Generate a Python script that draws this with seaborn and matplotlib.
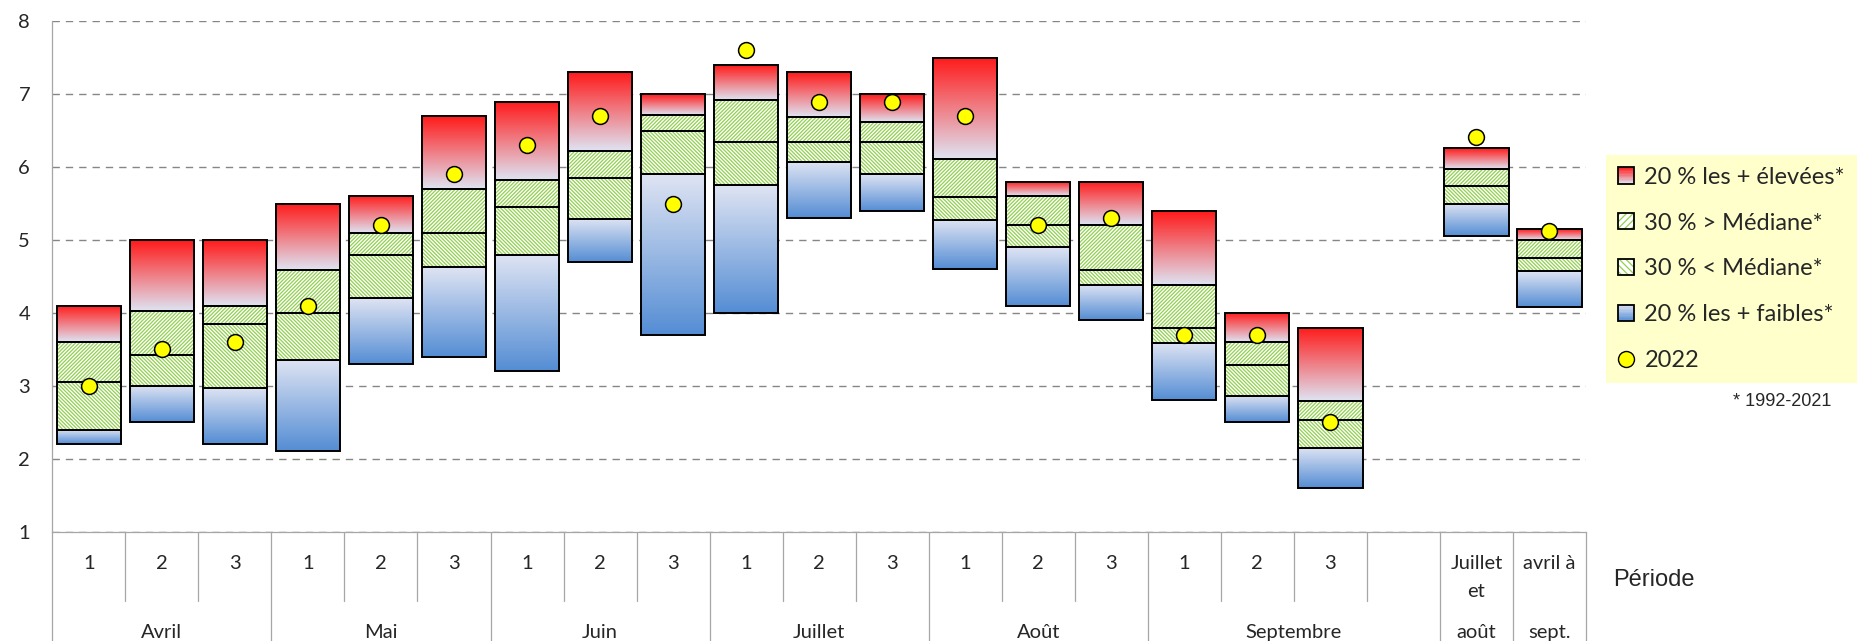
import numpy as np
import pandas as pd
import seaborn as sns
import matplotlib.pyplot as plt
from matplotlib.colors import LinearSegmentedColormap
from matplotlib.patches import Rectangle
from matplotlib.lines import Line2D
from matplotlib.legend_handler import HandlerBase

# --- data (decades of April..September, then two seasons) ---
decades = ["1", "2", "3"] * 6 + ["", "Juillet", "avril à"]
months = ["Avril", "Mai", "Juin", "Juillet", "Août", "Septembre", "août", "sept."]
month_centers = [1, 4, 7, 10, 13, 16.5, 19, 20]
group_edges = [-0.5, 2.5, 5.5, 8.5, 11.5, 14.5, 18.5, 19.5, 20.5]

p_min = [2.2, 2.5, 2.2, 2.1, 3.3, 3.4, 3.2, 4.7, 3.7, 4.0, 5.3, 5.4, 4.6, 4.1, 3.9,
         2.8, 2.5, 1.6, np.nan, 5.06, 4.08]
p20 = [2.4, 3.0, 2.97, 3.36, 4.2, 4.63, 4.8, 5.29, 5.9, 5.75, 6.07, 5.9, 5.28, 4.9,
       4.39, 3.59, 2.86, 2.15, np.nan, 5.5, 4.57]
p50 = [3.05, 3.43, 3.85, 4.0, 4.8, 5.09, 5.45, 5.85, 6.5, 6.35, 6.35, 6.35, 5.59,
       5.2, 4.59, 3.8, 3.29, 2.53, np.nan, 5.74, 4.75]
p80 = [3.6, 4.03, 4.1, 4.59, 5.09, 5.7, 5.82, 6.22, 6.72, 6.92, 6.69, 6.62, 6.11,
       5.6, 5.2, 4.39, 3.6, 2.79, np.nan, 5.98, 5.0]
p_max = [4.1, 5.0, 5.0, 5.5, 5.6, 6.7, 6.9, 7.3, 7.0, 7.4, 7.3, 7.0, 7.5, 5.8, 5.8,
         5.4, 4.0, 3.8, np.nan, 6.26, 5.15]
y2022 = [3.0, 3.5, 3.6, 4.1, 5.2, 5.9, 6.3, 6.7, 5.5, 7.6, 6.9, 6.9, 6.7, 5.2, 5.3,
         3.7, 3.7, 2.5, np.nan, 6.42, 5.13]

df = pd.DataFrame({"pos": np.arange(len(decades)), "min": p_min, "p20": p20,
                   "p50": p50, "p80": p80, "max": p_max, "y2022": y2022}).dropna()

RED_TOP, PALE, BLUE_BOT = "#ff1a1a", "#dfe4f3", "#548dd4"
GREEN = "#92d050"
W = 0.88

sns.set_style("white")
plt.rcParams["font.family"] = ["Lato", "DejaVu Sans"]
plt.rcParams["hatch.linewidth"] = 0.9

fig = plt.figure(figsize=(18.6, 6.41), dpi=100)
ax = fig.add_axes([52.3 / 1860, 1 - 531.7 / 641, (1586 - 52.3) / 1860, (531.7 - 21.3) / 641])


def gradient_bars(bottom, top, c_low, c_high):
    bars = ax.bar(df["pos"], top - bottom, bottom=bottom, width=W,
                  facecolor="none", edgecolor="black", lw=1.4, zorder=3)
    cmap = LinearSegmentedColormap.from_list("g", [c_low, c_high])
    grad = np.linspace(0, 1, 256).reshape(-1, 1)
    for b in bars:
        x0, y0 = b.get_x(), b.get_y()
        im = ax.imshow(grad, extent=(x0, x0 + b.get_width(), y0, y0 + b.get_height()),
                       origin="lower", cmap=cmap, aspect="auto", zorder=2)
        im.set_clip_path(b)


def hatched_bars(bottom, top, hatch):
    ax.bar(df["pos"], top - bottom, bottom=bottom, width=W, facecolor="white",
           edgecolor=GREEN, hatch=hatch, lw=0, zorder=2)
    ax.bar(df["pos"], top - bottom, bottom=bottom, width=W, facecolor="none",
           edgecolor="black", lw=1.4, zorder=3)


gradient_bars(df["min"], df["p20"], BLUE_BOT, PALE)
hatched_bars(df["p20"], df["p50"], "\\" * 9)
hatched_bars(df["p50"], df["p80"], "/" * 9)
gradient_bars(df["p80"], df["max"], PALE, RED_TOP)

sns.scatterplot(data=df, x="pos", y="y2022", s=130, color="#ffff00",
                edgecolor="black", linewidth=1.1, zorder=5, ax=ax, legend=False)

ax.set_xlim(-0.5, 20.5)
ax.set_ylim(1, 8)
ax.set_yticks(range(1, 9))
ax.set_xticks([])
ax.set_xlabel("")
ax.set_ylabel("")
ax.set_axisbelow(True)
ax.yaxis.grid(True, linestyle=(0, (5.3, 4.3)), color="#868686", lw=1.0)
for s in ["top", "right"]:
    ax.spines[s].set_visible(False)
for s in ["left", "bottom"]:
    ax.spines[s].set_color("#a6a6a6")
    ax.spines[s].set_linewidth(0.9)
ax.tick_params(axis="y", length=5, color="#868686", width=0.9, pad=11, labelsize=14.5)

# category table under the axis
trans = ax.get_xaxis_transform()
for b in np.arange(-0.5, 21, 1):
    y_end = -0.215 if b in group_edges else -0.1365
    ax.plot([b, b], [0, y_end], transform=trans, color="#a6a6a6", lw=0.9, clip_on=False)
for i, lab in enumerate(decades):
    ax.text(i, -0.073, lab, transform=trans, ha="center", va="baseline", fontsize=14.5)
ax.text(19, -0.128, "et", transform=trans, ha="center", va="baseline", fontsize=14.5)
for c, lab in zip(month_centers, months):
    ax.text(c, -0.208, lab, transform=trans, ha="center", va="baseline", fontsize=14.5)

fig.text(1613 / 1860, 1 - 586 / 641, "Période", family="Liberation Sans",
         fontsize=17, va="baseline")
fig.text(1733 / 1860, 1 - 401 / 641, "* 1992-2021", family="Liberation Sans",
         fontsize=13, va="center")


class SwatchHandler(HandlerBase):
    def __init__(self, low=None, high=None, hatch=None):
        super().__init__()
        self.low, self.high, self.hatch = low, high, hatch

    def create_artists(self, legend, orig_handle, xdescent, ydescent, width, height,
                       fontsize, trans):
        x0, y0 = -xdescent, -ydescent
        arts = []
        if self.hatch:
            arts.append(Rectangle((x0, y0), width, height, facecolor="white",
                                  edgecolor=GREEN, hatch=self.hatch, lw=0, transform=trans))
        else:
            cmap = LinearSegmentedColormap.from_list("s", [self.low, self.high])
            n = 12
            for i in range(n):
                arts.append(Rectangle((x0, y0 + i * height / n), width, height / n + 0.3,
                                      facecolor=cmap((i + 0.5) / n), lw=0, transform=trans))
        arts.append(Rectangle((x0, y0), width, height, facecolor="none",
                              edgecolor="black", lw=1.3, transform=trans))
        return arts


h_red, h_up, h_lo, h_blue = [Rectangle((0, 0), 1, 1) for _ in range(4)]
h_dot = Line2D([], [], marker="o", ls="", markerfacecolor="#ffff00",
               markeredgecolor="black", markersize=11.5)
fig.legend([h_red, h_up, h_lo, h_blue, h_dot],
           ["20 % les + élevées*", "30 % > Médiane*", "30 % < Médiane*",
            "20 % les + faibles*", "2022"],
           handler_map={h_red: SwatchHandler(PALE, RED_TOP),
                        h_up: SwatchHandler(hatch="/////"),
                        h_lo: SwatchHandler(hatch="\\\\\\\\\\"),
                        h_blue: SwatchHandler(BLUE_BOT, PALE)},
           loc="upper left", bbox_to_anchor=(1606 / 1860, 1 - 155 / 641),
           frameon=True, facecolor="#ffffcc", edgecolor="none", fancybox=False,
           framealpha=1, fontsize=17, handlelength=0.68, handleheight=0.68,
           handletextpad=0.45, labelspacing=1.05, borderpad=0.5, borderaxespad=0)

fig.savefig("out.png", dpi=100)
